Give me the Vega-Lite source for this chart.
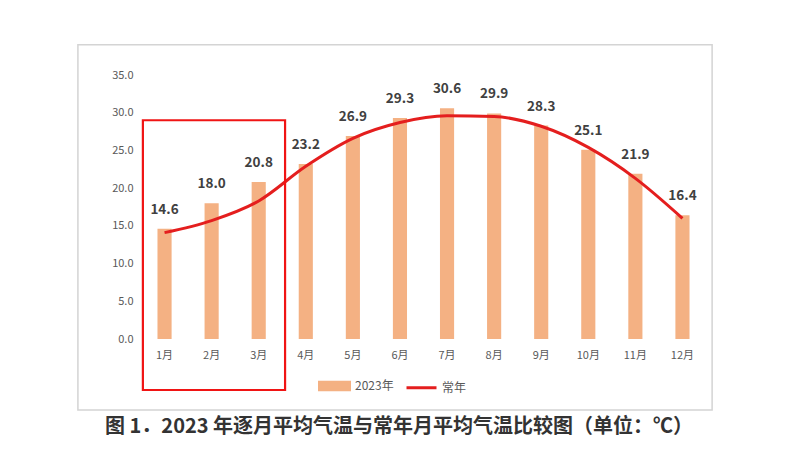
{
  "$schema": "https://vega.github.io/schema/vega-lite/v6.json",
  "width": 565,
  "height": 264,
  "autosize": {"type": "none"},
  "padding": {"left": 141, "top": 75, "right": 94, "bottom": 129},
  "background": "white",
  "config": {"font": "Noto Sans CJK SC", "view": {"stroke": null}},
  "title": {
    "text": "图 1．2023 年逐月平均气温与常年月平均气温比较图（单位：℃）",
    "orient": "bottom",
    "anchor": "start",
    "frame": "group",
    "dx": -36,
    "offset": 6,
    "fontSize": 20,
    "fontWeight": "bold",
    "color": "#333333",
    "font": "Noto Sans CJK SC"
  },
  "data": {
    "values": [
      {"month": "1月", "t2023": 14.6, "normal": 14.1},
      {"month": "2月", "t2023": 18.0, "normal": 15.7},
      {"month": "3月", "t2023": 20.8, "normal": 18.3},
      {"month": "4月", "t2023": 23.2, "normal": 22.9},
      {"month": "5月", "t2023": 26.9, "normal": 26.6},
      {"month": "6月", "t2023": 29.3, "normal": 28.7},
      {"month": "7月", "t2023": 30.6, "normal": 29.6},
      {"month": "8月", "t2023": 29.9, "normal": 29.5},
      {"month": "9月", "t2023": 28.3, "normal": 28.2},
      {"month": "10月", "t2023": 25.1, "normal": 25.4},
      {"month": "11月", "t2023": 21.9, "normal": 21.3},
      {"month": "12月", "t2023": 16.4, "normal": 16.0}
    ]
  },
  "layer": [
    {
      "data": {"values": [{}]},
      "mark": {"type": "rect", "fill": null, "fillOpacity": 0, "stroke": "#d4d4d4", "strokeWidth": 1.5},
      "encoding": {
        "x": {"datum": -1.34, "type": "quantitative", "scale": {"domain": [0, 12], "nice": false, "zero": false}, "axis": null},
        "x2": {"datum": 12.13},
        "y": {"datum": 39.0, "type": "quantitative", "scale": {"domain": [0, 35], "nice": false, "zero": false}, "axis": null},
        "y2": {"datum": -9.4}
      }
    },
    {
      "encoding": {
        "x": {
          "field": "month", "type": "nominal", "sort": null,
          "scale": {"paddingInner": 0.7, "paddingOuter": 0.35},
          "axis": {"labelAngle": 0, "labelColor": "#595959", "labelFontSize": 11, "labelPadding": 10, "domain": false, "ticks": false, "title": null}
        },
        "y": {
          "field": "t2023", "type": "quantitative",
          "scale": {"domain": [0, 35], "nice": false},
          "axis": {"values": [0, 5, 10, 15, 20, 25, 30, 35], "labelOverlap": false, "format": ".1f", "labelColor": "#595959", "labelFontSize": 11, "labelPadding": 8, "gridColor": "#d9d9d9", "domain": false, "ticks": false, "title": null}
        }
      },
      "layer": [
        {
          "mark": {"type": "bar"},
          "encoding": {
            "color": {
              "datum": "2023年",
              "scale": {"domain": ["2023年", "常年"], "range": ["#F4B183", "#E41E1E"]},
              "legend": {
                "title": null,
                "orient": "none",
                "direction": "horizontal",
                "legendX": 177,
                "legendY": 294,
                "labelColor": "#595959",
                "labelFontSize": 12,
                "labelOffset": 4,
                "columnPadding": 6,
                "symbolSize": 900,
                "encode": {
                  "symbols": {
                    "update": {
                      "shape": [{"test": "datum.label === '常年'", "value": "stroke"}, {"value": "M-1,-0.25H1V0.25H-1Z"}],
                      "fill": [{"test": "datum.label === '常年'", "value": "transparent"}, {"value": "#F4B183"}],
                      "stroke": [{"test": "datum.label === '常年'", "value": "#E41E1E"}, {"value": "transparent"}],
                      "strokeWidth": {"value": 3},
                      "size": {"value": 900}
                    }
                  }
                }
              }
            }
          }
        },
        {
          "mark": {"type": "line", "interpolate": "monotone", "strokeWidth": 3},
          "encoding": {
            "y": {"field": "normal", "type": "quantitative"},
            "color": {"datum": "常年"}
          }
        },
        {
          "mark": {"type": "text", "dy": -19, "baseline": "middle", "fontSize": 13.5, "fontWeight": "bold", "fill": "#404040"},
          "encoding": {
            "text": {"field": "t2023", "type": "quantitative", "format": ".1f"}
          }
        }
      ]
    },
    {
      "data": {"values": [{}]},
      "mark": {"type": "rect", "fill": null, "fillOpacity": 0, "stroke": "#F01414", "strokeWidth": 2.2},
      "encoding": {
        "x": {"datum": 0.04, "type": "quantitative", "scale": {"domain": [0, 12], "nice": false, "zero": false}, "axis": null},
        "x2": {"datum": 3.06},
        "y": {"datum": 29.0, "type": "quantitative", "scale": {"domain": [0, 35], "nice": false, "zero": false}, "axis": null},
        "y2": {"datum": -6.76}
      }
    }
  ],
  "resolve": {"scale": {"x": "independent", "y": "independent"}}
}
